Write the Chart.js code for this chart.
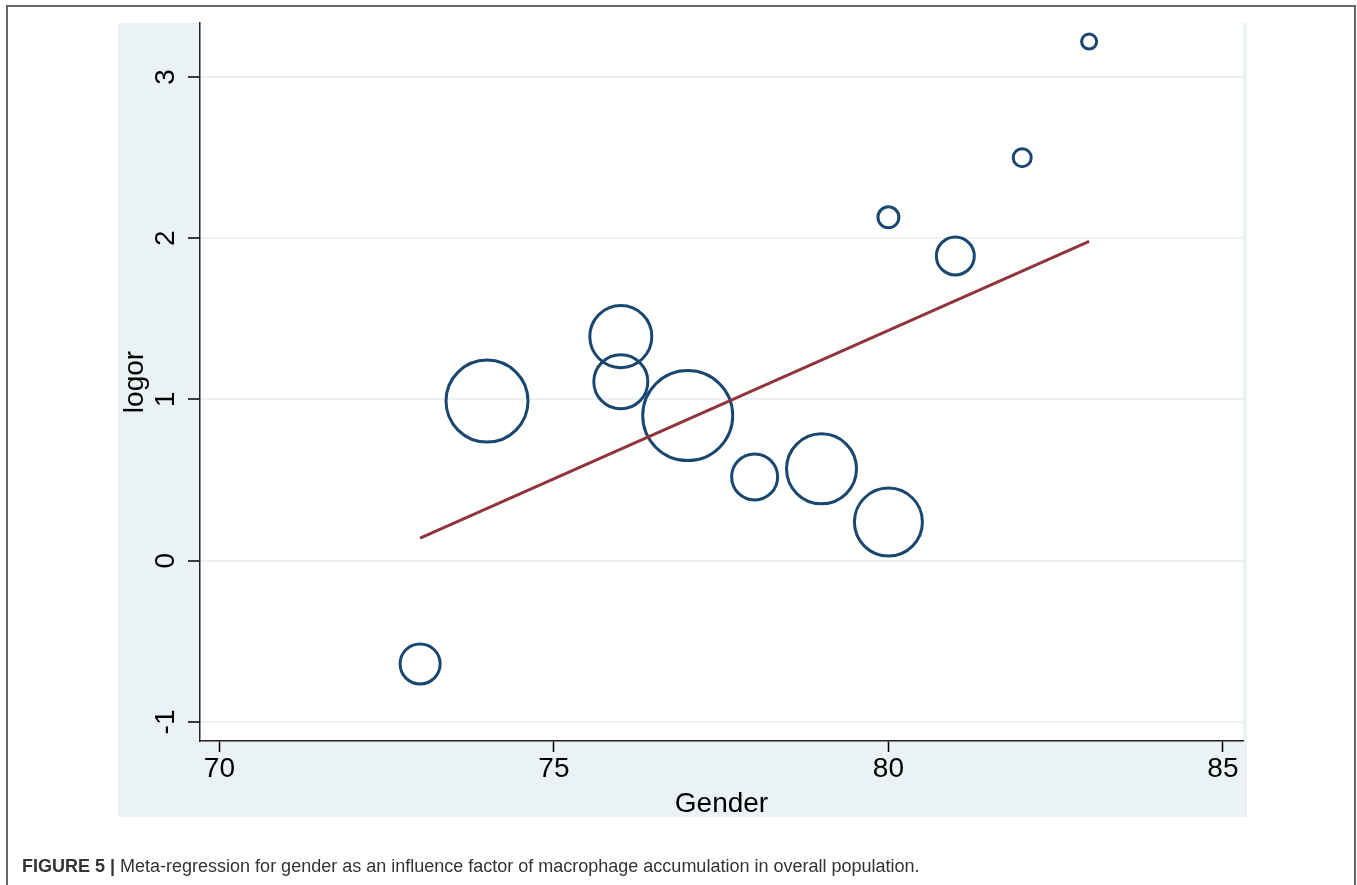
<!DOCTYPE html>
<html>
<head>
<meta charset="utf-8">
<script src="https://cdn.jsdelivr.net/npm/chart.js@4.4.1/dist/chart.umd.min.js"></script>
<style>
  body { margin: 0; background: #fff; }
  #wrap { position: relative; width: 1357px; height: 885px; }
  #grafico { position: absolute; left: 0; top: 0; }
  #legenda {
    position: absolute; left: 22px; top: 856px;
    font-family: "Liberation Sans", Arial, sans-serif; font-size: 18px; color: #333;
    white-space: nowrap;
  }
</style>
</head>
<body>
<div id="wrap">
  <canvas id="grafico" width="1357" height="885"></canvas>
  <div id="legenda"><b>FIGURE 5 |</b> Meta-regression for gender as an influence factor of macrophage accumulation in overall population.</div>
</div>
<script>
// dados
var genero = [73, 74, 76, 76, 77, 78, 79, 80, 80, 81, 82, 83];
var logor  = [-0.64, 0.99, 1.39, 1.11, 0.90, 0.52, 0.57, 0.24, 2.13, 1.89, 2.50, 3.22];
var peso   = [19.8, 83, 47.5, 36, 100, 26.1, 60.5, 57.1, 5.4, 17.8, 4, 2.8];

// reta da meta-regressao
var retaX = [73, 83];
var retaY = [0.14, 1.98];

var ticksX = [70, 75, 80, 85];
var ticksY = [-1, 0, 1, 2, 3];

var bolhas = [];
for (var i in genero){
  bolhas.push({x: genero[i], y: logor[i], r: 4.5 * Math.sqrt(peso[i])});
}
var reta = [];
for (var j in retaX){
  reta.push({x: retaX[j], y: retaY[j]});
}

var fonte = '"Liberation Sans", Arial, sans-serif';
var azul_fundo = '#eaf2f3';

// fundo estilo Stata + moldura da figura
var fundo = {
  id: 'fundo',
  beforeDraw: function(chart){
    var ctx = chart.ctx;
    var a = chart.chartArea;
    ctx.save();
    ctx.fillStyle = '#fff';
    ctx.fillRect(0, 0, chart.width, chart.height);
    ctx.fillStyle = azul_fundo;
    ctx.fillRect(118, a.top, a.right + 4 - 118, 817 - a.top);
    ctx.fillStyle = '#fff';
    ctx.fillRect(a.left, a.top, a.right - a.left, a.bottom - a.top);
    ctx.strokeStyle = '#666';
    ctx.lineWidth = 2;
    ctx.strokeRect(7, 6, 1348, 900);
    ctx.restore();
  }
};

Chart.defaults.font.family = fonte;

var graf = new Chart(document.getElementById('grafico'), {
  type: 'scatter',
  data: {
    datasets: [{
      type: 'line',
      label: 'Ajuste',
      data: reta,
      borderColor: '#90353b',
      borderWidth: 3,
      pointRadius: 0,
      fill: false
    }, {
      type: 'bubble',
      label: 'Estudos',
      data: bolhas,
      borderColor: '#1a476f',
      backgroundColor: 'rgba(0,0,0,0)',
      borderWidth: 3
    }]
  },
  options: {
    responsive: false,
    animation: false,
    devicePixelRatio: 1,
    events: [],
    layout: { autoPadding: false, padding: { left: 118, top: 23, right: 114, bottom: 64 } },
    plugins: { legend: { display: false }, tooltip: { enabled: false } },
    scales: {
      x: {
        type: 'linear',
        min: 69.71,
        max: 85.30,
        afterBuildTicks: function(s){ s.ticks = ticksX.map(function(v){ return {value: v}; }); },
        afterFit: function(s){ s.height = 80; s.paddingLeft = 0; s.paddingRight = 0; },
        ticks: { font: { size: 28 }, color: '#000', maxRotation: 0, padding: 0 },
        grid: { drawOnChartArea: false, tickLength: 11, tickColor: '#000', tickWidth: 1.5 },
        border: { color: '#222', width: 1.5 },
        title: { display: true, text: 'Gender', font: { size: 28 }, color: '#000', padding: 0 }
      },
      y: {
        type: 'linear',
        min: -1.118,
        max: 3.335,
        afterBuildTicks: function(s){ s.ticks = ticksY.map(function(v){ return {value: v}; }); },
        afterFit: function(s){ s.width = 82; s.paddingTop = 0; s.paddingBottom = 0; },
        ticks: { font: { size: 28 }, color: '#000', minRotation: 90, maxRotation: 90, crossAlign: 'center', padding: 9 },
        grid: { color: azul_fundo, lineWidth: 2, tickLength: 12, tickColor: '#000', tickWidth: 1.5 },
        border: { color: '#222', width: 1.5 },
        title: { display: true, text: 'logor', font: { size: 28 }, color: '#000', padding: 0 }
      }
    }
  },
  plugins: [fundo]
});
</script>
</body>
</html>
